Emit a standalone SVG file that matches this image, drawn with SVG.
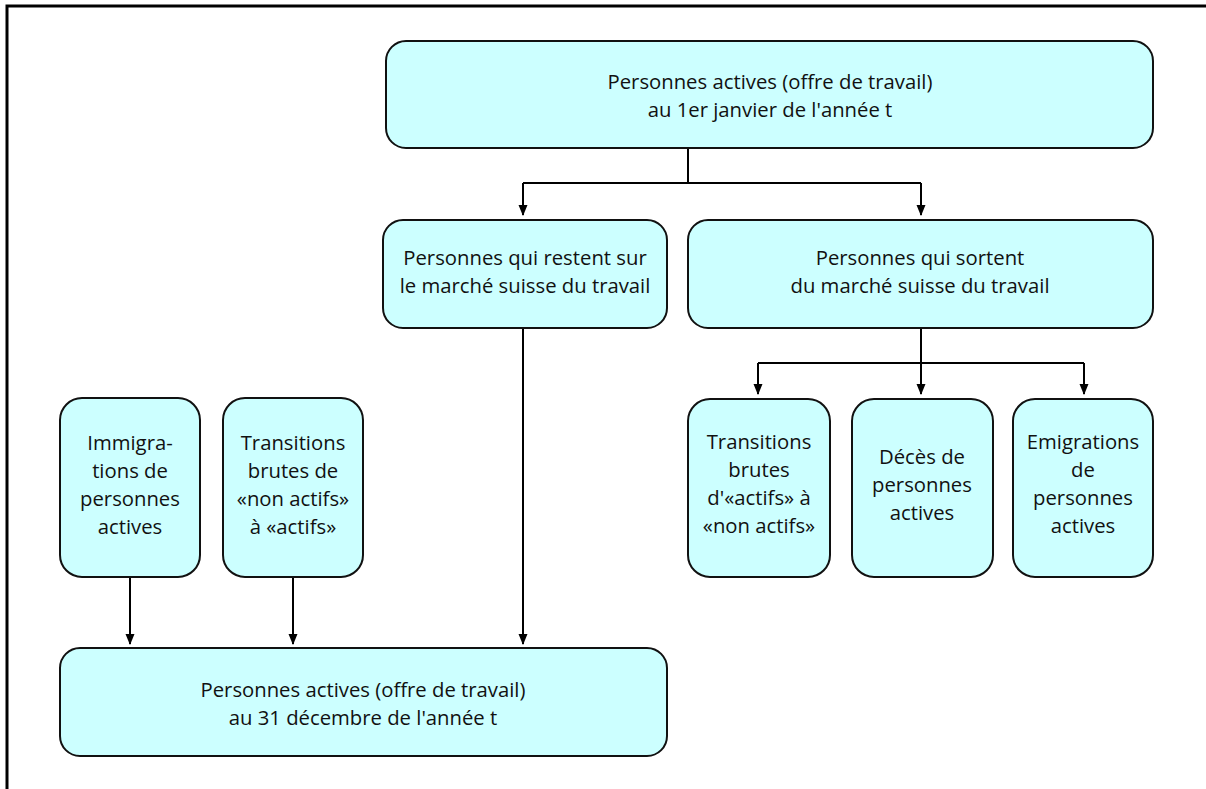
<svg xmlns="http://www.w3.org/2000/svg" width="1206" height="789" viewBox="0 0 1206 789">
<style>
.box{fill:#CCFFFF;stroke:#111;stroke-width:2}
.t{font-family:"Open Sans","Liberation Sans",sans-serif;font-size:20.3px;fill:#111;text-anchor:middle}
.c{fill:none;stroke:#000;stroke-width:2}
</style>
<defs>
<marker id="ah" markerWidth="11" markerHeight="10" refX="10" refY="5" orient="auto" markerUnits="userSpaceOnUse">
<path d="M0,0.5 L11,5 L0,9.5 Z" fill="#000"/>
</marker>
</defs>
<rect width="1206" height="789" fill="#fff"/>
<path d="M7,789 V6 H1206" fill="none" stroke="#000" stroke-width="3"/>
<g id="connectors">
<path class="c" d="M688,148 V183"/>
<path class="c" d="M523,183 H921"/>
<path class="c" d="M523,183 V215" marker-end="url(#ah)"/>
<path class="c" d="M921,183 V215" marker-end="url(#ah)"/>
<path class="c" d="M921,328 V363"/>
<path class="c" d="M758,363 H1084"/>
<path class="c" d="M758,363 V394" marker-end="url(#ah)"/>
<path class="c" d="M921,363 V394" marker-end="url(#ah)"/>
<path class="c" d="M1084,363 V394" marker-end="url(#ah)"/>
<path class="c" d="M523,328 V644" marker-end="url(#ah)"/>
<path class="c" d="M130,577 V644" marker-end="url(#ah)"/>
<path class="c" d="M293,577 V644" marker-end="url(#ah)"/>
</g>
<g id="n-top">
<rect class="box" x="386" y="41" width="767" height="107" rx="20"/>
<text class="t" x="770" y="89">Personnes actives (offre de travail)</text>
<text class="t" x="770" y="117">au 1er janvier de l'année t</text>
</g>
<g id="n-restent">
<rect class="box" x="383" y="220" width="284" height="108" rx="20"/>
<text class="t" x="525" y="265">Personnes qui restent sur</text>
<text class="t" x="525" y="293">le marché suisse du travail</text>
</g>
<g id="n-sortent">
<rect class="box" x="688" y="220" width="465" height="108" rx="20"/>
<text class="t" x="920" y="265">Personnes qui sortent</text>
<text class="t" x="920" y="293">du marché suisse du travail</text>
</g>
<g id="n-immigr">
<rect class="box" x="60" y="398" width="140" height="179" rx="22"/>
<text class="t" x="130" y="450">Immigra-</text>
<text class="t" x="130" y="478">tions de</text>
<text class="t" x="130" y="506">personnes</text>
<text class="t" x="130" y="534">actives</text>
</g>
<g id="n-trans-in">
<rect class="box" x="223" y="398" width="140" height="179" rx="22"/>
<text class="t" x="293" y="450">Transitions</text>
<text class="t" x="293" y="478">brutes de</text>
<text class="t" x="293" y="506">«non actifs»</text>
<text class="t" x="293" y="534">à «actifs»</text>
</g>
<g id="n-trans-out">
<rect class="box" x="688" y="399" width="142" height="178" rx="22"/>
<text class="t" x="759" y="449">Transitions</text>
<text class="t" x="759" y="477">brutes</text>
<text class="t" x="759" y="505">d'«actifs» à</text>
<text class="t" x="759" y="533">«non actifs»</text>
</g>
<g id="n-deces">
<rect class="box" x="852" y="399" width="141" height="178" rx="22"/>
<text class="t" x="922" y="464">Décès de</text>
<text class="t" x="922" y="492">personnes</text>
<text class="t" x="922" y="520">actives</text>
</g>
<g id="n-emigr">
<rect class="box" x="1013" y="399" width="140" height="178" rx="22"/>
<text class="t" x="1083" y="449">Emigrations</text>
<text class="t" x="1083" y="477">de</text>
<text class="t" x="1083" y="505">personnes</text>
<text class="t" x="1083" y="533">actives</text>
</g>
<g id="n-bottom">
<rect class="box" x="60" y="648" width="607" height="108" rx="20"/>
<text class="t" x="363" y="697">Personnes actives (offre de travail)</text>
<text class="t" x="363" y="725">au 31 décembre de l'année t</text>
</g>
</svg>
